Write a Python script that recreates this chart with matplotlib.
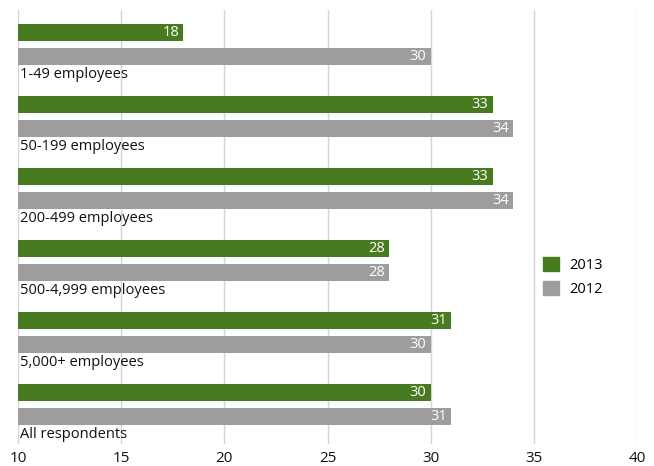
import matplotlib.pyplot as plt
from matplotlib.patches import Patch

categories = ["1-49 employees", "50-199 employees", "200-499 employees",
              "500-4,999 employees", "5,000+ employees", "All respondents"]
vals_2013 = [18, 33, 33, 28, 31, 30]
vals_2012 = [30, 34, 34, 28, 30, 31]

green = "#487b20"
grey = "#9d9d9b"

plt.rcParams['font.family'] = ['Open Sans', 'DejaVu Sans']

fig = plt.figure(figsize=(6.54, 4.66), dpi=100)
ax = fig.add_axes([18/654, 22/466, 619/654, 434/466])

# y measured in pixels from top of figure
step = 72
for i, cat in enumerate(categories):
    yg = 32 + step * i
    yr = 56 + step * i
    ax.barh(yg, vals_2013[i] - 10, left=10, height=17, color=green, zorder=3)
    ax.barh(yr, vals_2012[i] - 10, left=10, height=17, color=grey, zorder=3)
    ax.text(vals_2013[i] - 0.2, yg, str(vals_2013[i]), color="white",
            ha="right", va="center", fontsize=10.5, zorder=4)
    ax.text(vals_2012[i] - 0.2, yr, str(vals_2012[i]), color="white",
            ha="right", va="center", fontsize=10.5, zorder=4)
    ax.text(10.1, 74 + step * i, cat, ha="left", va="center", fontsize=10.5,
            color="#111111", zorder=4)

ax.set_xlim(10, 40)
ax.set_ylim(444, 10)
ax.set_xticks(range(10, 41, 5))
ax.set_yticks([])
ax.grid(axis="x", color="#d4d4d4", linewidth=1, zorder=0)
for s in ax.spines.values():
    s.set_visible(False)
ax.tick_params(axis="x", length=0, labelsize=11, pad=5, colors="#111111")

handles = [Patch(color=green, label="2013"), Patch(color=grey, label="2012")]
ax.legend(handles=handles, loc="center left", bbox_to_anchor=(0.848, 0.385),
          frameon=False, fontsize=10.5, handlelength=1.1, handleheight=1.1,
          handletextpad=0.7, labelspacing=0.55, borderpad=0, borderaxespad=0)

fig.savefig("out.png", dpi=100)
